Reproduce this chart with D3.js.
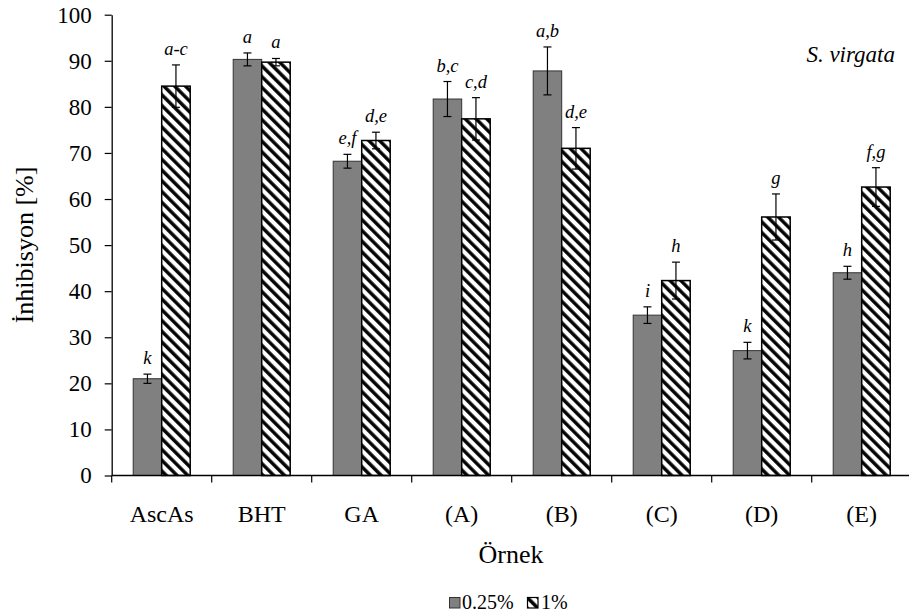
<!DOCTYPE html>
<html>
<head>
<meta charset="utf-8">
<script src="https://cdn.jsdelivr.net/npm/d3@7"></script>
<style>
  html, body { margin: 0; padding: 0; background: #fff; }
  svg { display: block; }
  svg text { font-family: "Liberation Serif", serif; fill: #000; }
</style>
</head>
<body>
<svg id="chart" width="909" height="616" font-family="Liberation Serif"></svg>
<script>
// Sample groups
const categories = ["AscAs", "BHT", "GA", "(A)", "(B)", "(C)", "(D)", "(E)"];
const seriesNames = ["0.25%", "1%"];

// Mean inhibition (%) per concentration
const values025 = [21.0, 90.3, 68.2, 81.7, 87.8, 34.8, 27.1, 44.0];
const values1 = [84.5, 89.7, 72.7, 77.4, 71.0, 42.3, 56.1, 62.6];

// Standard deviations
const errors025 = [1.0, 1.4, 1.5, 3.8, 5.2, 1.8, 1.8, 1.4];
const errors1 = [4.6, 0.8, 1.8, 4.6, 4.5, 4.0, 5.0, 4.2];

// Significance letters
const letters025 = ["k", "a", "e,f", "b,c", "a,b", "i", "k", "h"];
const letters1 = ["a-c", "a", "d,e", "c,d", "d,e", "h", "g", "f,g"];

const yTicks = [0, 10, 20, 30, 40, 50, 60, 70, 80, 90, 100];

const FONT = "Liberation Serif";
const svg = d3.select("#chart");

const plot = { left: 111.7, right: 911.7, top: 14.7, bottom: 475.5 };

// Hatch pattern for the 1% series
const defs = svg.append("defs");
const pat = defs.append("pattern")
  .attr("id", "hatch")
  .attr("patternUnits", "userSpaceOnUse")
  .attr("width", 7.6)
  .attr("height", 7.6)
  .attr("patternTransform", "rotate(-45)");
pat.append("rect").attr("width", 7.6).attr("height", 7.6).attr("fill", "#fff");
pat.append("line")
  .attr("x1", 1.8).attr("y1", 0).attr("x2", 1.8).attr("y2", 7.6)
  .attr("stroke", "#000").attr("stroke-width", 3.4);

const x = d3.scaleBand()
  .domain(categories)
  .range([plot.left, plot.right])
  .paddingInner(0.43)
  .paddingOuter(0.215);

const xInner = d3.scaleBand()
  .domain(seriesNames)
  .range([0, x.bandwidth()]);

const y = d3.scaleLinear().domain([0, 100]).range([plot.bottom, plot.top]);

const series = [
  { name: "0.25%", values: values025, errors: errors025, letters: letters025, fill: "#808080", stroke: "#333", sw: 1 },
  { name: "1%", values: values1, errors: errors1, letters: letters1, fill: "url(#hatch)", stroke: "#000", sw: 1.5 }
];

// Bars
series.forEach(s => {
  const g = svg.append("g");
  const data = categories.map((c, i) => ({ c, v: s.values[i], e: s.errors[i], l: s.letters[i] }));
  g.selectAll("rect").data(data).join("rect")
    .attr("x", d => x(d.c) + xInner(s.name))
    .attr("y", d => y(d.v))
    .attr("width", xInner.bandwidth())
    .attr("height", d => y(0) - y(d.v))
    .attr("fill", s.fill)
    .attr("stroke", s.stroke)
    .attr("stroke-width", s.sw);

  // Error bars
  const eg = g.selectAll("g.err").data(data).join("g").attr("class", "err");
  const cx = d => x(d.c) + xInner(s.name) + xInner.bandwidth() / 2;
  eg.append("line")
    .attr("x1", cx).attr("x2", cx)
    .attr("y1", d => y(d.v + d.e)).attr("y2", d => y(d.v - d.e))
    .attr("stroke", "#000").attr("stroke-width", 1.2);
  eg.append("line")
    .attr("x1", d => cx(d) - 4).attr("x2", d => cx(d) + 4)
    .attr("y1", d => y(d.v + d.e)).attr("y2", d => y(d.v + d.e))
    .attr("stroke", "#000").attr("stroke-width", 1.2);
  eg.append("line")
    .attr("x1", d => cx(d) - 4).attr("x2", d => cx(d) + 4)
    .attr("y1", d => y(d.v - d.e)).attr("y2", d => y(d.v - d.e))
    .attr("stroke", "#000").attr("stroke-width", 1.2);

  // Letters
  g.selectAll("text").data(data).join("text")
    .attr("x", cx)
    .attr("y", d => y(d.v + d.e) - 10)
    .attr("text-anchor", "middle")
    .attr("font-family", FONT)
    .attr("font-style", "italic")
    .attr("font-size", 18.5)
    .text(d => d.l);
});

// Y axis
const yAxis = svg.append("g")
  .attr("transform", `translate(${plot.left},0)`)
  .call(d3.axisLeft(y).tickValues(yTicks).tickSize(7).tickSizeOuter(0).tickPadding(13))
  .attr("font-family", FONT);
yAxis.select(".domain").attr("stroke", "#000").attr("stroke-width", 1.3);
yAxis.selectAll(".tick line").attr("stroke", "#000").attr("stroke-width", 1.2);
yAxis.selectAll(".tick text")
  .attr("font-family", FONT)
  .attr("font-size", 23)
  .attr("fill", "#000");

// X axis: ticks at group boundaries, labels centred in bands
const boundaries = d3.range(categories.length + 1).map(i => plot.left + i * x.step());
const xAxisG = svg.append("g");
xAxisG.append("line")
  .attr("x1", plot.left).attr("x2", plot.right)
  .attr("y1", plot.bottom).attr("y2", plot.bottom)
  .attr("stroke", "#000").attr("stroke-width", 1.3);
xAxisG.selectAll("line.tk").data(boundaries).join("line")
  .attr("class", "tk")
  .attr("x1", d => d).attr("x2", d => d)
  .attr("y1", plot.bottom).attr("y2", plot.bottom + 7)
  .attr("stroke", "#000").attr("stroke-width", 1.2);
xAxisG.selectAll("text").data(categories).join("text")
  .attr("x", d => x(d) + x.bandwidth() / 2)
  .attr("y", 522)
  .attr("text-anchor", "middle")
  .attr("font-family", FONT)
  .attr("font-size", 24)
  .text(d => d);

// Axis titles
svg.append("text")
  .attr("transform", "translate(33,245) rotate(-90)")
  .attr("text-anchor", "middle")
  .attr("font-family", FONT)
  .attr("font-size", 26)
  .text("İnhibisyon [%]");
svg.append("text")
  .attr("x", 511).attr("y", 563)
  .attr("text-anchor", "middle")
  .attr("font-family", FONT)
  .attr("font-size", 26)
  .text("Örnek");

// Species label
svg.append("text")
  .attr("x", 895).attr("y", 62)
  .attr("text-anchor", "end")
  .attr("font-family", FONT)
  .attr("font-style", "italic")
  .attr("font-size", 23)
  .text("S. virgata");

// Legend
const legend = svg.append("g").attr("transform", "translate(449,597)");
legend.append("rect").attr("x", 0.5).attr("y", 0.5).attr("width", 10.5).attr("height", 10.5)
  .attr("fill", "#808080").attr("stroke", "#333").attr("stroke-width", 1);
legend.append("text").attr("x", 13).attr("y", 12).attr("font-family", FONT).attr("font-size", 20).text(seriesNames[0]);
legend.append("rect").attr("x", 78.5).attr("y", 0.5).attr("width", 10.5).attr("height", 10.5)
  .attr("fill", "url(#hatch)").attr("stroke", "#000").attr("stroke-width", 1.2);
legend.append("text").attr("x", 92).attr("y", 12).attr("font-family", FONT).attr("font-size", 20).text(seriesNames[1]);
</script>
</body>
</html>
